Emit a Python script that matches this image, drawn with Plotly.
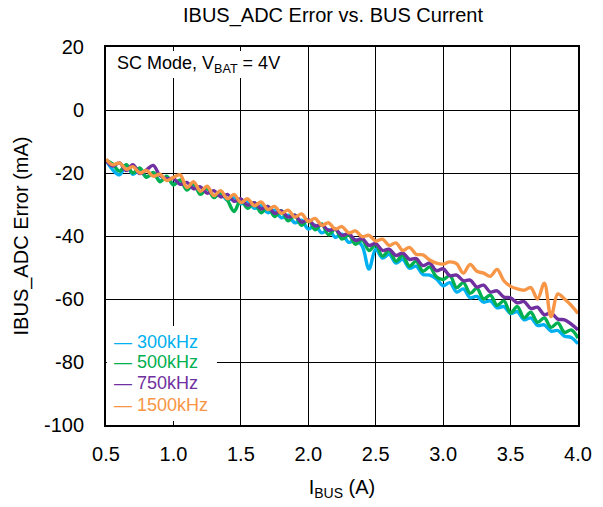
import plotly.graph_objects as go

# Bus current (A)
i_bus = [0.50, 0.55, 0.60, 0.65, 0.70, 0.75, 0.80, 0.85, 0.90, 0.95,
         1.00, 1.05, 1.10, 1.15, 1.20, 1.25, 1.30, 1.35, 1.40, 1.45,
         1.50, 1.55, 1.60, 1.65, 1.70, 1.75, 1.80, 1.85, 1.90, 1.95,
         2.00, 2.05, 2.10, 2.15, 2.20, 2.25, 2.30, 2.35, 2.40, 2.45,
         2.50, 2.55, 2.60, 2.65, 2.70, 2.75, 2.80, 2.85, 2.90, 2.95,
         3.00, 3.05, 3.10, 3.15, 3.20, 3.25, 3.30, 3.35, 3.40, 3.45,
         3.50, 3.55, 3.60, 3.65, 3.70, 3.75, 3.80, 3.85, 3.90, 3.95,
         4.00]

# IBUS_ADC error (mA) per switching frequency
err_300k = [-16.0, -19.0, -20.6, -17.6, -20.4, -19.0, -21.2, -20.2, -22.4, -21.4,
            -23.6, -22.4, -24.8, -23.8, -26.2, -25.0, -27.4, -26.6, -28.6, -27.8,
            -29.8, -29.0, -31.2, -30.4, -32.6, -31.8, -34.2, -33.4, -35.8, -35.0,
            -37.8, -36.6, -39.0, -38.0, -40.4, -39.4, -42.0, -41.2, -43.2, -50.5,
            -44.2, -47.0, -45.8, -48.6, -47.4, -50.2, -49.6, -52.2, -52.4, -53.6,
            -55.8, -54.8, -57.8, -56.8, -59.6, -59.2, -61.0, -60.6, -62.8, -62.4,
            -64.6, -64.0, -66.6, -66.0, -68.4, -68.2, -70.2, -70.0, -71.8, -72.2,
            -74.2]
err_500k = [-16.0, -17.2, -19.4, -17.4, -20.0, -18.4, -21.4, -19.8, -22.8, -21.0,
            -23.8, -22.2, -25.4, -23.4, -26.8, -24.8, -27.8, -26.2, -28.6, -32.2,
            -28.4, -31.2, -29.4, -32.6, -30.6, -33.8, -32.0, -35.2, -33.4, -36.6,
            -34.8, -38.0, -36.2, -39.6, -37.8, -41.0, -39.6, -42.6, -41.2, -44.6,
            -42.8, -46.4, -44.6, -48.0, -46.2, -49.6, -48.0, -51.2, -49.8, -53.0,
            -53.8, -52.6, -56.4, -54.8, -58.2, -56.6, -60.0, -58.8, -62.0, -60.6,
            -64.4, -62.4, -66.0, -64.2, -67.4, -66.0, -69.0, -67.6, -70.6, -69.8,
            -72.4]
err_750k = [-16.0, -17.8, -16.8, -19.2, -17.4, -20.2, -19.0, -17.6, -20.8, -21.8,
            -21.8, -23.6, -23.0, -25.0, -24.4, -26.4, -25.6, -27.6, -26.8, -29.0,
            -28.2, -30.2, -29.4, -31.4, -30.6, -32.8, -32.0, -34.0, -33.4, -35.6,
            -34.8, -36.8, -36.4, -38.2, -37.8, -39.8, -39.2, -41.4, -40.8, -43.0,
            -42.4, -44.6, -44.2, -46.2, -45.4, -47.4, -47.2, -49.4, -48.6, -51.0,
            -50.4, -52.6, -52.4, -54.2, -54.0, -56.2, -55.6, -57.8, -57.4, -59.4,
            -59.6, -61.2, -60.8, -63.0, -62.6, -65.0, -64.4, -66.4, -66.6, -68.0,
            -69.8]
err_1500k = [-15.6, -17.4, -16.8, -18.8, -18.0, -20.0, -19.2, -21.0, -20.4, -22.4,
             -21.4, -20.6, -24.6, -22.8, -25.8, -24.2, -27.2, -25.6, -28.2, -26.8,
             -29.4, -28.2, -30.4, -29.2, -31.6, -30.6, -32.8, -31.8, -34.0, -33.0,
             -35.4, -34.4, -36.6, -35.8, -37.8, -37.0, -39.0, -38.4, -40.2, -39.8,
             -41.6, -41.0, -43.0, -42.2, -44.6, -43.6, -45.8, -46.0, -47.6, -48.6,
             -48.9, -48.2, -48.8, -51.8, -49.0, -51.2, -51.8, -52.8, -50.6, -54.2,
             -56.0, -56.8, -57.2, -56.4, -60.0, -55.0, -65.6, -58.4, -60.0, -62.0,
             -64.6]

series_names = ["300kHz", "500kHz", "750kHz", "1500kHz"]
series_colors = ["#00B0F0", "#00B050", "#7030A0", "#F79646"]
series_data = [err_300k, err_500k, err_750k, err_1500k]

x_ticks = [0.5, 1.0, 1.5, 2.0, 2.5, 3.0, 3.5, 4.0]
y_ticks = [20, 0, -20, -40, -60, -80, -100]
y_tick_text = ["20", "0", "-20", "-40", "-60", "-80", "-100"]

FONT = "Liberation Sans, Arial, sans-serif"

fig = go.Figure()
for name, color, ys in zip(series_names, series_colors, series_data):
    fig.add_trace(go.Scatter(
        x=i_bus, y=ys, mode="lines", name=name,
        line=dict(color=color, width=3.4, shape="spline", smoothing=1.0),
        showlegend=False,
    ))

# white boxes behind the caption and the key
fig.add_shape(type="rect", xref="paper", yref="paper",
              x0=0.002, x1=0.39, y0=(425 - 78) / 378, y1=(425 - 51) / 378,
              fillcolor="white", line_width=0, layer="above")
fig.add_shape(type="rect", xref="paper", yref="paper",
              x0=0.002, x1=0.235, y0=(425 - 421) / 378, y1=(425 - 326) / 378,
              fillcolor="white", line_width=0, layer="above")

fig.add_annotation(xref="paper", yref="paper", x=0.02, y=(425 - 64) / 378,
                   xanchor="left", yanchor="middle", showarrow=False,
                   text="SC Mode, V<sub>BAT</sub> = 4V",
                   font=dict(family=FONT, size=18, color="black"))

key_rows = [341.5, 362, 383, 404.5]
for name, color, row in zip(series_names, series_colors, key_rows):
    fig.add_annotation(xref="paper", yref="paper", x=0.013, y=(425 - row) / 378,
                       xanchor="left", yanchor="middle", showarrow=False,
                       text="— " + name,
                       font=dict(family=FONT, size=18, color=color))

fig.update_layout(
    width=603, height=507,
    margin=dict(l=106, r=25, t=47, b=82),
    paper_bgcolor="white", plot_bgcolor="white",
    font=dict(family=FONT, size=20, color="black"),
    title=dict(text="IBUS_ADC Error vs. BUS Current", x=0.481, xref="paper", xanchor="center",
               y=0.970, yanchor="middle", font=dict(family=FONT, size=20, color="black")),
)
fig.update_xaxes(
    range=[0.5, 4.0], tickvals=x_ticks, tickformat=".1f",
    showgrid=True, gridcolor="black", gridwidth=1,
    showline=True, linecolor="black", linewidth=2, mirror=True,
    ticks="", ticklabelstandoff=10, zeroline=False,
    title=dict(text="I<sub>BUS</sub> (A)", standoff=16, font=dict(size=20)),
    tickfont=dict(size=20),
)
fig.update_yaxes(
    range=[-100, 20], tickvals=y_ticks, ticktext=y_tick_text,
    showgrid=True, gridcolor="black", gridwidth=1,
    showline=True, linecolor="black", linewidth=2, mirror=True,
    ticks="", ticklabelstandoff=16, zeroline=False,
    title=dict(text="IBUS_ADC Error (mA)", standoff=10, font=dict(size=20)),
    tickfont=dict(size=20),
)

fig.write_html("out.html")
